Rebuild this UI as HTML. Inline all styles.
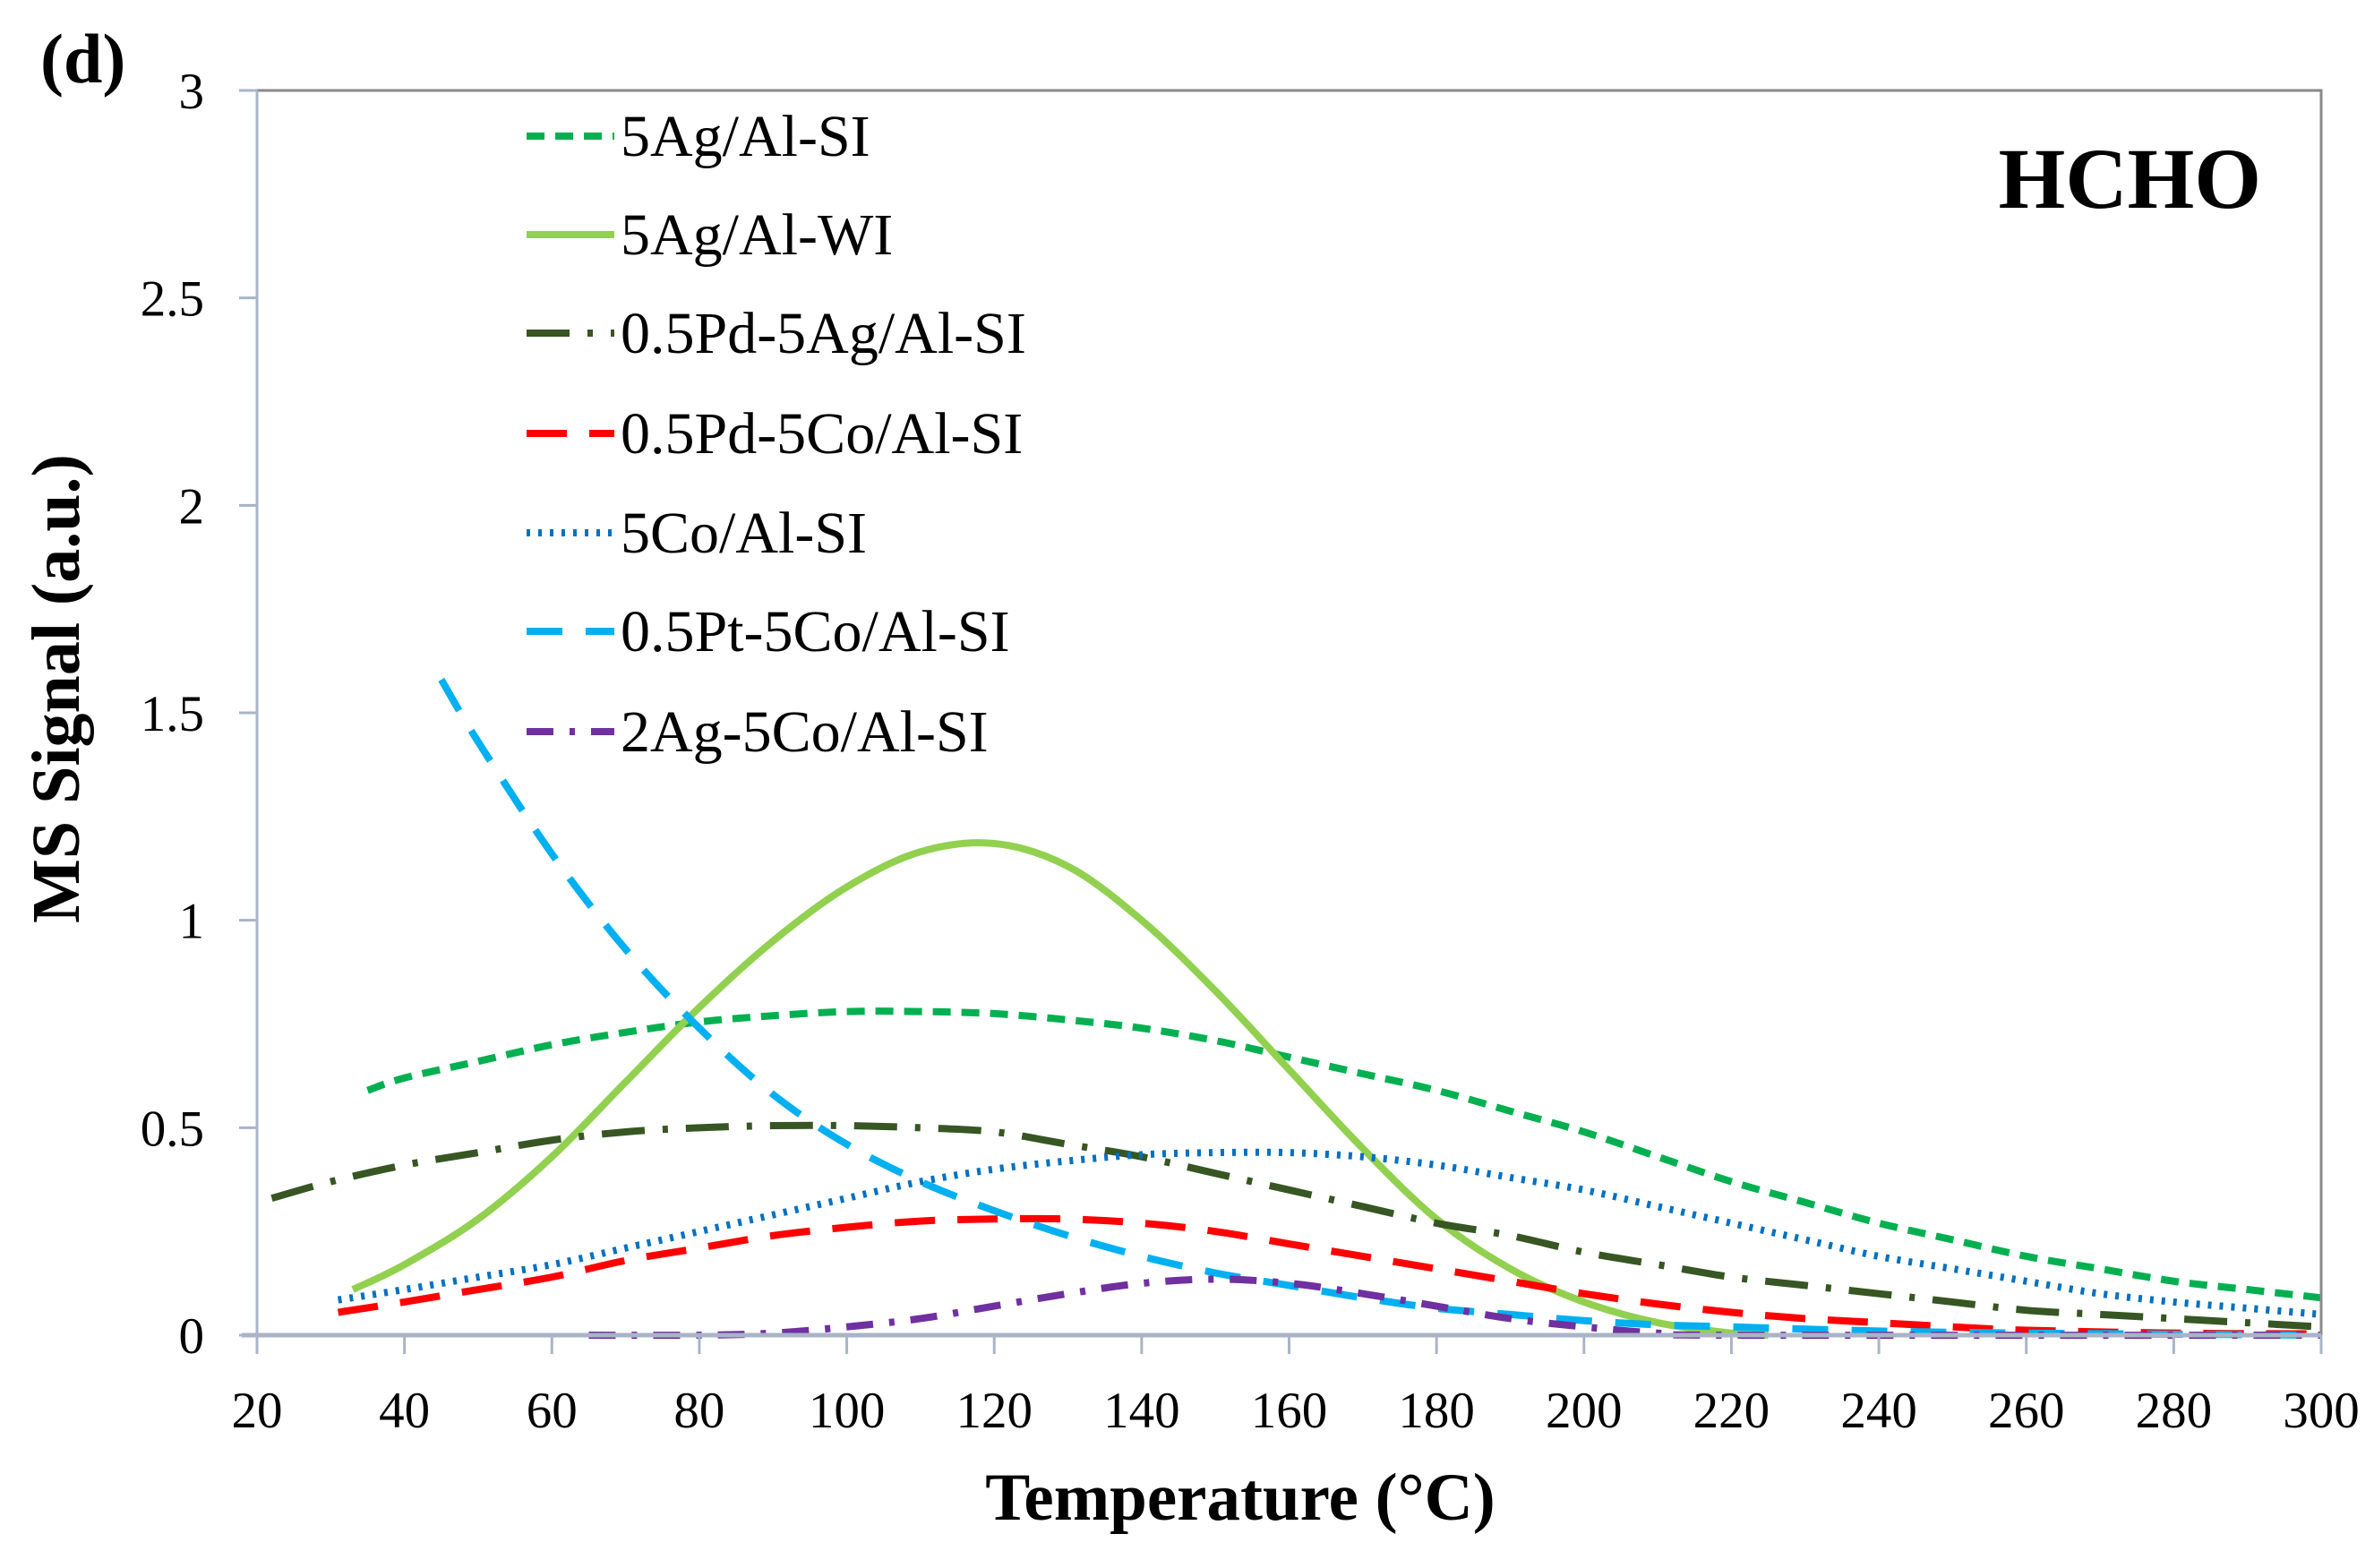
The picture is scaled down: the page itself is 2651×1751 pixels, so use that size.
<!DOCTYPE html>
<html><head><meta charset="utf-8">
<style>
html,body{margin:0;padding:0;background:#fff;}
svg{display:block;font-family:"Liberation Serif",serif;}
</style></head>
<body>
<svg id="chart" width="2651" height="1751" viewBox="0 0 2651 1751" xmlns="http://www.w3.org/2000/svg">
<rect x="0" y="0" width="2651" height="1751" fill="#fff"/>
<text x="45" y="92" font-size="78" font-weight="bold">(d)</text>
<text x="2525" y="232" font-size="96" font-weight="bold" text-anchor="end">HCHO</text>
<text transform="translate(88,769) rotate(-90)" font-size="76" font-weight="bold" text-anchor="middle">MS Signal (a.u.)</text>
<text x="1385" y="1697" font-size="75" font-weight="bold" text-anchor="middle">Temperature (°C)</text>
<g id="axes"></g>
<g id="series"></g>
<g id="legend"></g>
</svg>
<script>
const xTicks=[20,40,60,80,100,120,140,160,180,200,220,240,260,280,300];
const yTicks=[0,0.5,1,1.5,2,2.5,3];
const yTickLabels=["0","0.5","1","1.5","2","2.5","3"];
const seriesNames=["5Ag/Al-SI","5Ag/Al-WI","0.5Pd-5Ag/Al-SI","0.5Pd-5Co/Al-SI","5Co/Al-SI","0.5Pt-5Co/Al-SI","2Ag-5Co/Al-SI"];
const tAgSI=[35,40,50,60,70,80,90,100,110,120,130,140,150,160,170,180,190,200,210,220,230,240,250,260,270,280,290,300];
const vAgSI=[0.59,0.62,0.66,0.70,0.73,0.755,0.77,0.78,0.78,0.775,0.76,0.74,0.71,0.67,0.63,0.59,0.54,0.49,0.43,0.37,0.32,0.27,0.23,0.19,0.16,0.13,0.11,0.09];
const tAgWI=[33,40,50,60,70,80,90,100,110,120,130,140,150,160,170,180,190,200,210,220,225];
const vAgWI=[0.11,0.17,0.28,0.43,0.61,0.79,0.95,1.08,1.165,1.185,1.13,1.0,0.83,0.64,0.45,0.28,0.16,0.08,0.03,0.005,0];
const tPdAg=[22,30,40,50,60,70,80,90,100,110,120,130,140,150,160,170,180,190,200,210,220,230,240,250,260,270,280,290,300];
const vPdAg=[0.33,0.37,0.41,0.44,0.47,0.49,0.50,0.505,0.505,0.50,0.49,0.46,0.43,0.39,0.35,0.31,0.27,0.24,0.20,0.17,0.14,0.12,0.10,0.08,0.06,0.05,0.04,0.03,0.02];
const tPdCo=[31,40,50,60,70,80,90,100,110,120,130,140,150,160,170,180,190,200,210,220,230,240,250,260,280,300];
const vPdCo=[0.055,0.08,0.11,0.14,0.18,0.21,0.24,0.26,0.275,0.28,0.28,0.27,0.25,0.22,0.19,0.16,0.13,0.10,0.075,0.055,0.04,0.03,0.02,0.012,0.005,0.003];
const tCo=[31,40,50,60,70,80,90,100,110,120,130,140,150,160,170,180,190,200,210,220,230,240,250,260,270,280,290,300];
const vCo=[0.085,0.11,0.14,0.17,0.21,0.25,0.29,0.33,0.37,0.40,0.42,0.435,0.44,0.44,0.43,0.41,0.38,0.35,0.31,0.27,0.23,0.19,0.16,0.13,0.10,0.08,0.065,0.05];
const tPtCo=[45,50,60,70,80,90,100,110,120,130,140,150,160,170,180,190,200,210,220,240,260,300];
const vPtCo=[1.58,1.43,1.16,0.93,0.74,0.58,0.46,0.37,0.30,0.24,0.19,0.15,0.12,0.09,0.065,0.05,0.035,0.025,0.02,0.01,0.005,0];
const tAgCo=[65,80,90,100,110,120,130,140,150,160,170,180,190,200,210,220,300];
const vAgCo=[0,0,0.005,0.02,0.04,0.07,0.10,0.125,0.135,0.125,0.10,0.07,0.04,0.02,0.005,0,0];

const X0=287,X1=2592,Y0=1491,Y1=101;
const xs=t=>X0+(t-20)/(300-20)*(X1-X0);
const ys=v=>Y0-v/3*(Y0-Y1);
const NS="http://www.w3.org/2000/svg";
function mk(tag,parent){const e=document.createElementNS(NS,tag);parent.appendChild(e);return e;}
const axes=document.getElementById('axes');
const border=mk('path',axes);


border.setAttribute('d',`M${X0} ${Y1} H${X1} V${Y0}`);
border.setAttribute('fill','none');border.setAttribute('stroke','#8a8a8a');border.setAttribute('stroke-width','3');
const yAxis=mk('line',axes);


yAxis.setAttribute('x1',X0);yAxis.setAttribute('x2',X0);yAxis.setAttribute('y1',Y1);yAxis.setAttribute('y2',Y0);
yAxis.setAttribute('stroke','#a9b4c8');yAxis.setAttribute('stroke-width','3');
yTicks.forEach((v,i)=>{
  const tk=mk('line',axes);
  
  
  tk.setAttribute('x1',267);tk.setAttribute('x2',X0);tk.setAttribute('y1',ys(v));tk.setAttribute('y2',ys(v));
  tk.setAttribute('stroke','#a9b4c8');tk.setAttribute('stroke-width','3');
  const tl=mk('text',axes);
  
  
  tl.setAttribute('x',228);tl.setAttribute('y',ys(v)+20);tl.setAttribute('font-size','57');tl.setAttribute('text-anchor','end');
  tl.textContent=yTickLabels[i];
});
xTicks.forEach(t=>{
  const tk=mk('line',axes);
  
  
  tk.setAttribute('x1',xs(t));tk.setAttribute('x2',xs(t));tk.setAttribute('y1',Y0);tk.setAttribute('y2',1512);
  tk.setAttribute('stroke','#a9b4c8');tk.setAttribute('stroke-width','3');
  const tl=mk('text',axes);
  
  
  tl.setAttribute('x',xs(t));tl.setAttribute('y',1594);tl.setAttribute('font-size','57');tl.setAttribute('text-anchor','middle');
  tl.textContent=t;
});
const styles=[
 {c:'#00b050',d:'20 12'},
 {c:'#92d050',d:''},
 {c:'#375623',d:'48 20 6 20'},
 {c:'#ff0000',d:'45 25'},
 {c:'#0070c0',d:'4 9'},
 {c:'#00b0f0',d:'40 26'},
 {c:'#7030a0',d:'30 18 6 18'}
];
const data=[[tAgSI,vAgSI],[tAgWI,vAgWI],[tPdAg,vPdAg],[tPdCo,vPdCo],[tCo,vCo],[tPtCo,vPtCo],[tAgCo,vAgCo]];
const sg=document.getElementById('series');
function smooth(pts){
  let d=`M${pts[0][0]} ${pts[0][1]}`;
  for(let i=0;i<pts.length-1;i++){
    const p0=pts[i-1]||pts[i],p1=pts[i],p2=pts[i+1],p3=pts[i+2]||p2;
    const c1=[p1[0]+(p2[0]-p0[0])/6,p1[1]+(p2[1]-p0[1])/6];
    const c2=[p2[0]-(p3[0]-p1[0])/6,p2[1]-(p3[1]-p1[1])/6];
    d+=` C${c1[0]} ${c1[1]} ${c2[0]} ${c2[1]} ${p2[0]} ${p2[1]}`;
  }
  return d;
}
data.forEach((s,i)=>{
  const pts=s[0].map((t,j)=>[xs(t),ys(s[1][j])]);
  const p=mk('path',sg);
  
  
  p.setAttribute('d',smooth(pts));
  p.setAttribute('fill','none');p.setAttribute('stroke',styles[i].c);p.setAttribute('stroke-width','8');
  if(styles[i].d)p.setAttribute('stroke-dasharray',styles[i].d);
});
const base=mk('line',axes);


base.setAttribute('x1',270);base.setAttribute('x2',X1);base.setAttribute('y1',Y0);base.setAttribute('y2',Y0);
base.setAttribute('stroke','#a9b4c8');base.setAttribute('stroke-width','5');
document.getElementById('chart').insertBefore(axes,null);
const lg=document.getElementById('legend');
const rowY=[152,262,372,484,595,705,817];
seriesNames.forEach((n,i)=>{
  const l=mk('line',lg);
  
  
  l.setAttribute('x1',588);l.setAttribute('x2',686);l.setAttribute('y1',rowY[i]);l.setAttribute('y2',rowY[i]);
  l.setAttribute('stroke',styles[i].c);l.setAttribute('stroke-width','8');
  if(styles[i].d)l.setAttribute('stroke-dasharray',styles[i].d);
  const t=mk('text',lg);
  
  
  t.setAttribute('x',693);t.setAttribute('y',rowY[i]+22);t.setAttribute('font-size','66');
  t.textContent=n;
});
</script>
</body></html>
